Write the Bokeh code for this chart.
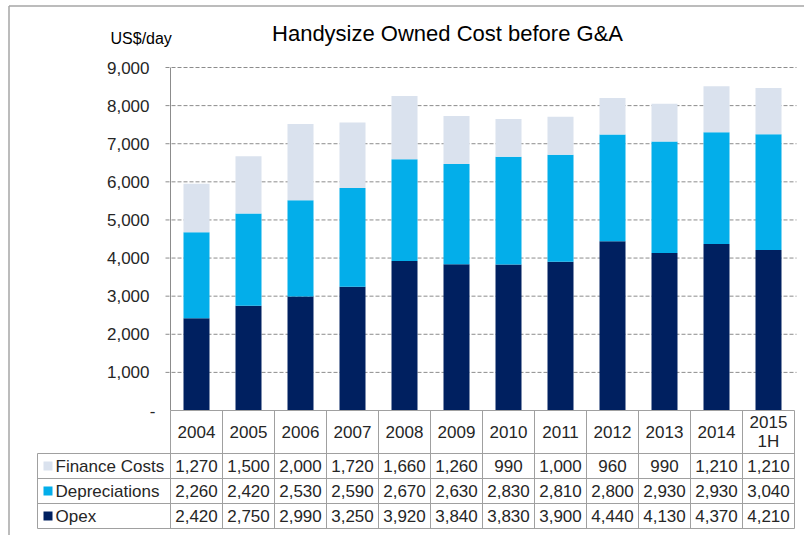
import numpy as np
from bokeh.plotting import figure
from bokeh.models import Range1d, Label
from bokeh.core.properties import value
from bokeh.embed import file_html
from bokeh.resources import INLINE

# ---- data ----
categories = ["2004", "2005", "2006", "2007", "2008", "2009", "2010",
              "2011", "2012", "2013", "2014", "2015\n1H"]
finance_costs = [1270, 1500, 2000, 1720, 1660, 1260, 990, 1000, 960, 990, 1210, 1210]
depreciations = [2260, 2420, 2530, 2590, 2670, 2630, 2830, 2810, 2800, 2930, 2930, 3040]
opex = [2420, 2750, 2990, 3250, 3920, 3840, 3830, 3900, 4440, 4130, 4370, 4210]
series_names = ["Finance Costs", "Depreciations", "Opex"]
y_ticks = [0, 1000, 2000, 3000, 4000, 5000, 6000, 7000, 8000, 9000]
y_tick_labels = ["-", "1,000", "2,000", "3,000", "4,000", "5,000",
                 "6,000", "7,000", "8,000", "9,000"]
title_text = "Handysize Owned Cost before G&A"
unit_text = "US$/day"

# ---- styles / layout ----
C_FIN = "#dae2ee"
C_DEP = "#03aeea"
C_OPEX = "#002060"
GRID = "#8c8c8c"
TABLE = "#a0a0a0"
TXT = "#262626"
FONT_NAME = "Liberation Sans"
FONT = value(FONT_NAME)

W, H = 804, 535
OFF = 0                   # canvas origin in picture px
CW = 52.0                 # column width in px
K = 343.0 / 9000.0        # px per unit
X0, Y0 = 170.0, 410.0     # picture px of (0, 0)


def X(px):
    return (px - X0) / CW


def Y(py):
    return (Y0 - py) / K


p = figure(width=W, height=H, output_backend="svg", toolbar_location=None,
           x_range=Range1d(X(OFF), X(OFF + W)), y_range=Range1d(Y(OFF + H), Y(OFF)),
           x_axis_location=None, y_axis_location=None,
           min_border=0, min_border_left=0, min_border_right=0,
           min_border_top=0, min_border_bottom=0)
p.grid.visible = False
p.outline_line_color = None
p.background_fill_color = "white"
p.border_fill_color = "white"

n = len(categories)
xc = np.arange(n) + 0.5
opex_a = np.array(opex, dtype=float)
dep_a = np.array(depreciations, dtype=float)
fin_a = np.array(finance_costs, dtype=float)

# outer frame (top & left)
p.segment(x0=[X(8.5), X(8.5)], y0=[Y(5.5), Y(5.5)], x1=[X(804), X(8.5)], y1=[Y(5.5), Y(535)],
          line_color="#a6a6a6", line_width=1.5)

# gridlines
gx0 = X(165)
gx1 = X(796)
gt = [t for t in y_ticks if t > 0]
p.segment(x0=[gx0] * len(gt), y0=gt, x1=[gx1] * len(gt), y1=gt,
          line_color=GRID, line_dash="4 2", line_width=1)

# stacked bars
p.vbar(x=xc, width=0.5, bottom=0, top=opex_a, fill_color=C_OPEX, line_color=None)
p.vbar(x=xc, width=0.5, bottom=opex_a, top=opex_a + dep_a, fill_color=C_DEP, line_color=None)
p.vbar(x=xc, width=0.5, bottom=opex_a + dep_a, top=opex_a + dep_a + fin_a,
       fill_color=C_FIN, line_color=None)

# y axis line
p.segment(x0=[0], y0=[0], x1=[0], y1=[y_ticks[-1]], line_color=GRID, line_width=1)

# y tick labels
offs = [6 if s == "-" else 0 for s in y_tick_labels]
p.text(x=[X(149)] * len(y_ticks), y=y_ticks, text=y_tick_labels, x_offset=offs,
       text_align="right", text_baseline="middle", text_font=FONT,
       text_font_size="17px", text_color=TXT)

# ---- data table ----
row_tops = [410, 453, 478, 503, 528]
xr = float(n)
p.segment(x0=[0], y0=[Y(row_tops[0])], x1=[xr], y1=[Y(row_tops[0])],
          line_color=TABLE, line_width=1)
hl = row_tops[1:]
p.segment(x0=[X(37)] * len(hl), y0=[Y(v) for v in hl], x1=[xr] * len(hl), y1=[Y(v) for v in hl],
          line_color=TABLE, line_width=1)
vx = list(range(n + 1))
p.segment(x0=vx, y0=[Y(410)] * len(vx), x1=vx, y1=[Y(528)] * len(vx),
          line_color=TABLE, line_width=1)
p.segment(x0=[X(37)], y0=[Y(453)], x1=[X(37)], y1=[Y(528)], line_color=TABLE, line_width=1)

# header
p.text(x=xc, y=[Y(431.5)] * n, text=categories, text_align="center", text_baseline="middle",
       text_font=FONT, text_font_size="17px", text_color=TXT, text_line_height=1.05)

# rows
row_vals = [finance_costs, depreciations, opex]
row_cols = [C_FIN, C_DEP, C_OPEX]
for r, (name, vals, col) in enumerate(zip(series_names, row_vals, row_cols)):
    yc = Y((row_tops[r + 1] + row_tops[r + 2]) / 2.0)
    p.scatter(x=[X(47.5)], y=[yc], marker="square", size=9, fill_color=col, line_color=None)
    p.text(x=[X(55)], y=[yc], text=[name], text_align="left", text_baseline="middle",
           text_font=FONT, text_font_size="17px", text_color=TXT)
    p.text(x=xc, y=[yc] * n, text=[f"{v:,}" for v in vals], text_align="center",
           text_baseline="middle", text_font=FONT, text_font_size="17px", text_color=TXT)

# title and unit
p.add_layout(Label(x=447 - OFF, y=H - (32.5 - OFF), x_units="screen", y_units="screen",
                   text=title_text, text_align="center", text_baseline="middle",
                   text_font=FONT_NAME, text_font_size="22px", text_color="#000000"))
p.add_layout(Label(x=110 - OFF, y=H - (38 - OFF), x_units="screen", y_units="screen",
                   text=unit_text, text_align="left", text_baseline="middle",
                   text_font=FONT_NAME, text_font_size="16px", text_color="#000000"))

open("out.html", "w").write(file_html(p, INLINE))
